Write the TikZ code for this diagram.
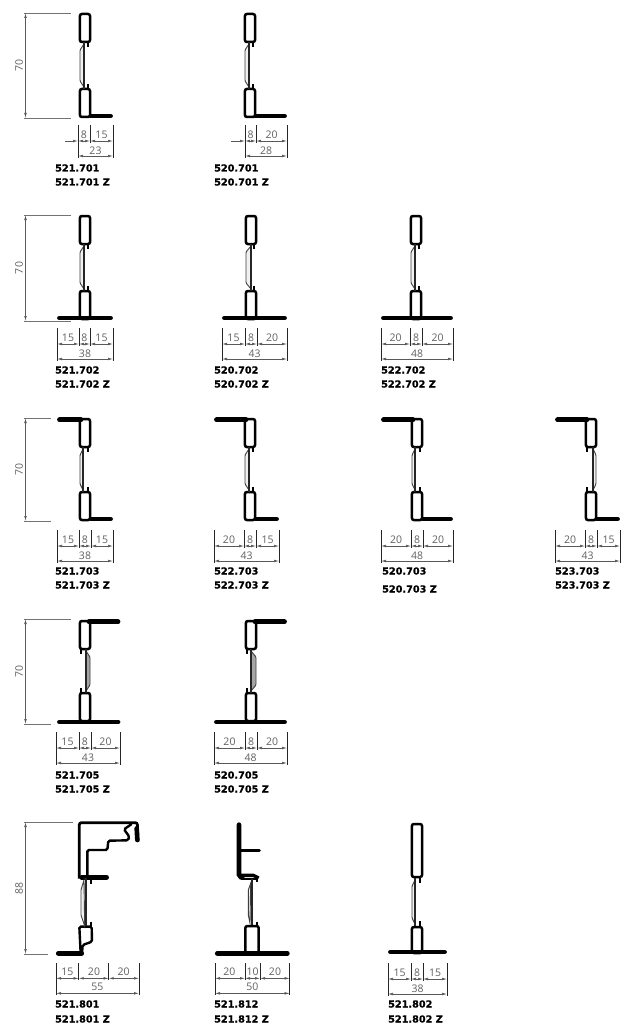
\documentclass[tikz,border=0pt]{standalone}
\usepackage{fontspec}
\setmainfont{Open Sans}
\newfontfamily\labfont[BoldFeatures={FakeBold=0.6}]{DejaVu Sans}
\usetikzlibrary{arrows.meta}
\tikzset{
 tubeline/.style={line width=2.5pt,rounded corners=2pt,black},
 flangeline/.style={line width=4.8pt,line cap=round,black},
 webline/.style={line width=1.7pt,black!85},
 bulgeline/.style={line width=.9pt,black!75,fill=black!6,rounded corners=1pt},
 nubline/.style={line width=1.8pt,black},
 tickline/.style={line width=.7pt,black!85},
 extline/.style={line width=.8pt,black!55},
 arrowline/.style={line width=.6pt,black!65,{Latex[length=5pt,width=2.6pt]}-{Latex[length=5pt,width=2.6pt]}},
 onearrow/.style={line width=.6pt,black!65,-{Latex[length=5pt,width=2.6pt]}},
 dimtext/.style={font=\fontsize{10.5}{11}\selectfont,text=black!62,inner sep=0pt},
 partlabel/.style={font=\labfont\bfseries\fontsize{9.7}{10}\selectfont,anchor=base west,inner sep=0pt},
}
% tube left x, y1, y2
\newcommand{\tube}[3]{\draw[tubeline] (#1+.9,#2) rectangle (#1+11,#3);}
% web: x, y1, y2, web offset, bulge offset, nub offset
\newcommand{\web}[6]{%
 \draw[bulgeline] (#1+#4,#2+2) -- (#1+#5,#2+8) -- (#1+#5,#3-8) -- (#1+#4,#3-2) -- cycle;
 \draw[webline] (#1+#4,#2) -- (#1+#4,#3);
 \draw[nubline] (#1+#6,#2-1) -- (#1+#6,#2+5);
 \draw[nubline] (#1+#6,#3-5) -- (#1+#6,#3+1);
}
\newcommand{\core}[6]{% x ytop ybot webo bulgeo nubo
 \tube{#1}{#2+1}{#2+29}\tube{#1}{#3-29}{#3-1}\web{#1}{#2+29}{#3-29}{#4}{#5}{#6}}
\newcommand{\flange}[3]{\draw[flangeline] (#1,#3) -- (#2,#3);}
\newcommand{\tk}[2]{\draw[tickline] (#1,#2) -- (#1,#2+33);}
\newcommand{\tks}[2]{\draw[tickline] (#1,#2) -- (#1,#2+18);}
\newcommand{\da}[4]{\draw[arrowline] (#1,#3+16) -- (#2,#3+16);
 \node[dimtext] (n#1x#2) at ({(#1+#2)/2},#3+9.5) {#4};}
\newcommand{\db}[4]{\draw[arrowline] (#1,#3+31) -- (#2,#3+31);
 \node[dimtext] (m#1x#2) at ({(#1+#2)/2},#3+25.5) {#4};}
% t a b c d l1 l2 l3 total
\newcommand{\dthree}[9]{\tk{#2}{#1}\tks{#3}{#1}\tks{#4}{#1}\tk{#5}{#1}
 \da{#2}{#3}{#1}{#6}\da{#3}{#4}{#1}{#7}\da{#4}{#5}{#1}{#8}\db{#2}{#5}{#1}{#9}}
\newcommand{\plabel}[4]{\node[partlabel] (p#1) at (#2,#3+3.5) {#1};
 \node[partlabel] (q#1) at (#2,#4+3.5) {#1 Z};}
\newcommand{\heightdim}[5]{% ytop ybot xtopend xbotend label
 \draw[extline] (24,#1) -- (#3,#1); \draw[extline] (24,#2) -- (#4,#2);
 \draw[arrowline] (25.5,#1) -- (25.5,#2);
 \node[dimtext,rotate=90] (h#1) at (19,{(#1+#2)/2}) {#5};}
\begin{document}
\begin{tikzpicture}[x=1pt,y=-1pt]
\useasboundingbox[fill=white] (0,0) rectangle (621,1027);
% ---------- row 1
\heightdim{13}{118}{71}{71}{70}
\core{79}{13}{118}{5}{1}{9}
\flange{91}{110.5}{116}
\tk{78}{125}\tks{90}{125}\tk{113}{125}
\draw[onearrow] (65,141) -- (78,141);
\da{78}{90}{125}{8}\da{90}{113}{125}{15}\db{78}{113}{125}{23}
\plabel{521.701}{55}{168}{182}
\core{244}{13}{118}{5}{1}{9}
\flange{256}{284.5}{116}
\tk{245}{125}\tks{256}{125}\tk{287}{125}
\draw[onearrow] (231,141) -- (245,141);
\da{245}{256}{125}{8}\da{256}{287}{125}{20}\db{245}{287}{125}{28}
\plabel{520.701}{214}{168}{182}
% ---------- row 2
\heightdim{215}{321}{71}{71}{70}
\core{79}{215}{320}{5}{1}{9}
\flange{59.5}{110.5}{318}
\dthree{328}{57}{79}{90}{113}{15}{8}{15}{38}
\plabel{521.702}{55}{370}{384}
\core{245}{215}{320}{6}{1}{9}
\flange{224.5}{284.5}{318}
\dthree{328}{222}{245}{257}{287}{15}{8}{20}{43}
\plabel{520.702}{214}{370}{384}
\core{410}{215}{320}{5}{1}{9}
\flange{383.5}{450.5}{318}
\dthree{328}{381}{410}{422}{453}{20}{8}{20}{48}
\plabel{522.702}{381}{370}{384}
% ---------- row 3
\heightdim{418}{521}{51}{51}{70}
\core{79}{418}{521}{4}{1}{9}
\flange{59.5}{81}{419.8}\flange{91}{110.5}{519}
\dthree{530}{57}{79}{91}{113}{15}{8}{15}{38}
\plabel{521.703}{55}{571}{585}
\core{244}{418}{521}{5}{1}{9}
\flange{216.5}{246}{419.8}\flange{256}{276.5}{519}
\dthree{530}{214}{244}{256}{279}{20}{8}{15}{43}
\plabel{522.703}{214}{571}{585}
\core{411}{418}{521}{4}{1}{9}
\flange{383.5}{413}{419.8}\flange{423}{450.5}{519}
\dthree{530}{381}{411}{423}{453}{20}{8}{20}{48}
\plabel{520.703}{382}{571}{589}
\core{585}{418}{521}{8}{11}{2}
\flange{557.5}{587}{419.8}\flange{597}{617.5}{519}
\dthree{530}{555}{585}{597}{620}{20}{8}{15}{43}
\plabel{523.703}{555}{571}{585}
% ---------- row 4
\heightdim{619}{724}{71}{51}{70}
\begin{scope}[bulgeline/.append style={fill=black!35}]
\core{79}{620}{722}{7}{11}{2}
\core{245}{620}{722}{6}{11}{2}
\end{scope}
\flange{89}{118}{621.8}\flange{59.5}{118}{722}
\dthree{732}{56}{79}{91}{120}{15}{8}{20}{43}
\plabel{521.705}{55}{775}{789}
\flange{255}{284.5}{621.8}\flange{216.5}{284.5}{722}
\dthree{732}{214}{245}{257}{287}{20}{8}{20}{48}
\plabel{520.705}{214}{775}{789}
% ---------- row 5
\heightdim{822}{954}{73}{48}{88}
\begin{scope}[shift={(0,800)},xscale=1/3,yscale=1/3]
% 521.801
\draw[line width=2.7pt,rounded corners=2pt] (238,236) -- (238,68) -- (412,68) -- (414,125);
\draw[line width=2.4pt,rounded corners=1.5pt] (395,72) -- (372,88) -- (388,110) -- (384,121) -- (325,122) -- (322,150) -- (262,150) -- (262,230);
\draw[line width=4.6pt,line cap=round] (410,85) -- (412,120);
\draw[line width=4.6pt,line cap=round] (245,232) -- (320,232);
\draw[line width=2.4pt,rounded corners=1.5pt] (242,460) -- (238,380) -- (275,380) -- (276,425) -- (248,435) -- (246,460);
\draw[line width=4.8pt,line cap=round] (175,460) -- (245,460);
\draw[line width=.9pt,black!75,fill=black!6] (252,240) -- (243,270) -- (243,345) -- (254,378) -- cycle;
\draw[line width=1.7pt,black!85] (257,235) -- (257,378);
\draw[line width=1.8pt] (272,236) -- (272,253);
\draw[line width=1.8pt] (272,365) -- (272,380);
\node[dimtext] (d1) at (202,515) {15};
\node[dimtext] (d2) at (282,515) {20};
\node[dimtext] (d3) at (371,515) {20};
\node[dimtext] (d4) at (292,560) {55};
\draw[tickline] (168,490) -- (168,585);
\draw[tickline] (236,490) -- (236,540);
\draw[tickline] (326,490) -- (326,540);
\draw[tickline] (417,490) -- (417,585);
\draw[arrowline] (168,535) -- (236,535);
\draw[arrowline] (236,535) -- (326,535);
\draw[arrowline] (326,535) -- (417,535);
\draw[arrowline] (168,580) -- (417,580);
% 521.812
\draw[line width=4.6pt,line cap=round,rounded corners=2pt] (717,74) -- (717,230) -- (727,233);
\draw[line width=3pt,line cap=round] (722,150) -- (778,150);
\draw[line width=3.4pt] (722,226) -- (760,226) -- (776,234);
\draw[line width=1.8pt] (725,236) -- (772,236);
\draw[line width=.9pt,black!75,fill=black!6] (752,250) -- (745,270) -- (745,345) -- (750,370) -- cycle;
\draw[line width=1.7pt,black!85] (756,238) -- (756,378);
\draw[line width=1.8pt] (772,235) -- (772,245);
\draw[line width=1.8pt] (772,365) -- (772,378);
\draw[line width=2.5pt,rounded corners=2pt] (736,458) -- (736,378) -- (776,378) -- (776,458);
\draw[line width=4.8pt,line cap=round] (652,460) -- (862,460);
\node[dimtext] (d5) at (688,515) {20};
\node[dimtext] (d6) at (758,515) {10};
\node[dimtext] (d7) at (825,515) {20};
\node[dimtext] (d8) at (757,560) {50};
\draw[tickline] (645,490) -- (645,585);
\draw[tickline] (735,490) -- (735,540);
\draw[tickline] (780,490) -- (780,540);
\draw[tickline] (869,490) -- (869,585);
\draw[arrowline] (645,535) -- (735,535);
\draw[arrowline] (735,535) -- (780,535);
\draw[arrowline] (780,535) -- (869,535);
\draw[arrowline] (645,580) -- (869,580);
\end{scope}
\plabel{521.801}{55}{1004}{1019}
\plabel{521.812}{214}{1004}{1019}
% 521.802
\tube{411}{824}{877}\tube{411}{927}{953}
\web{411}{878}{926}{4}{1}{9}
\flange{390.5}{444.5}{952}
\tk{388}{963}\tks{411}{963}\tks{423}{963}\tk{447}{963}
\da{388}{411}{963}{15}\da{411}{423}{963}{8}\da{423}{447}{963}{15}\db{388}{447}{963}{38}
\plabel{521.802}{388}{1004}{1019}
\end{tikzpicture}
\end{document}
